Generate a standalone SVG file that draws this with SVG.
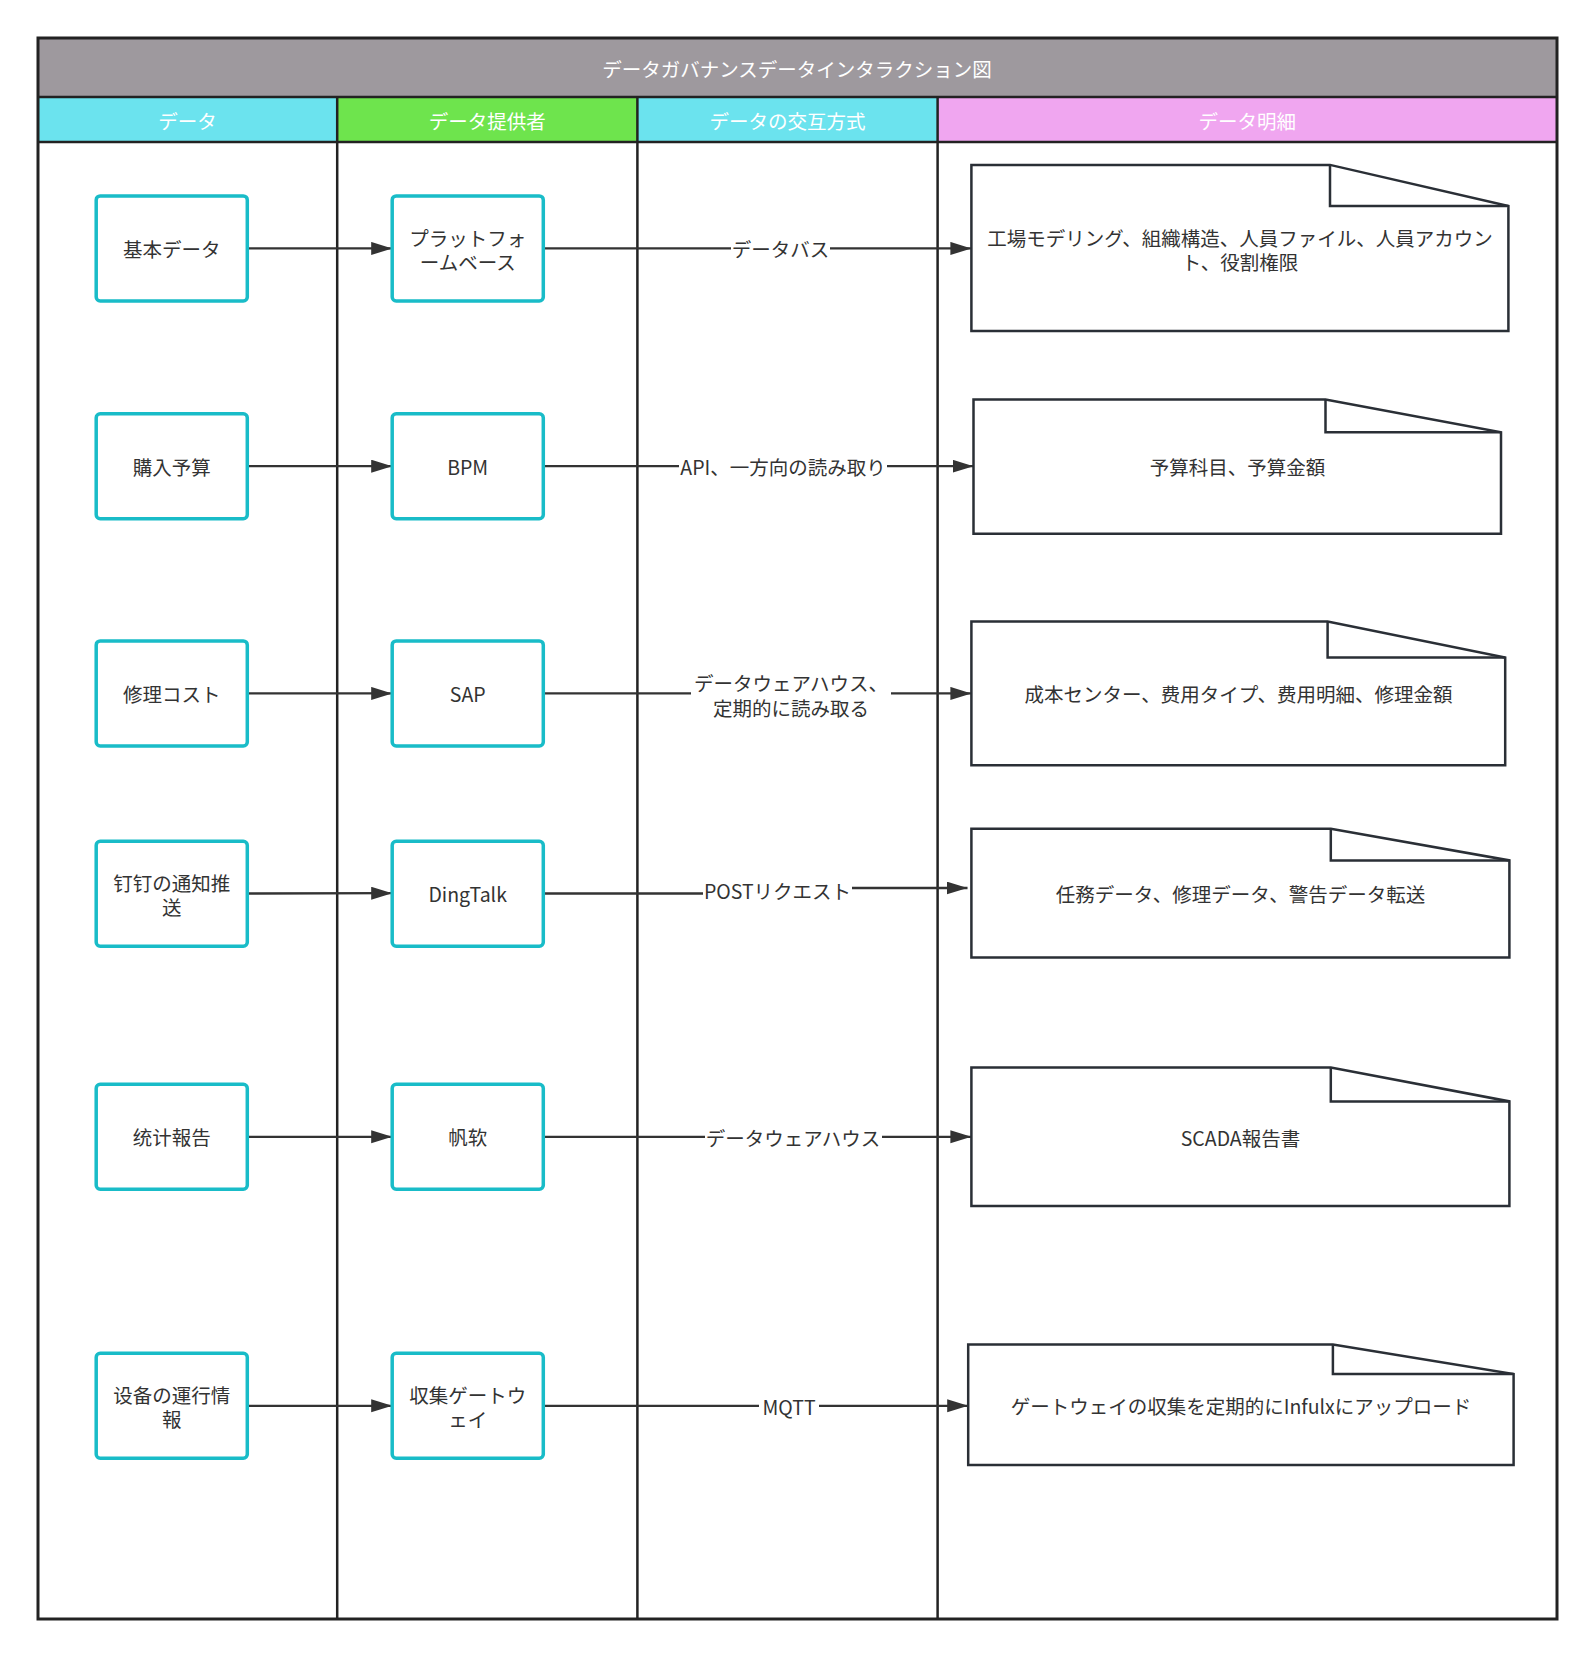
<svg xmlns="http://www.w3.org/2000/svg" width="1594" height="1657" viewBox="0 0 1594 1657">
<defs>
<style>
.t{font-family:"Noto Sans CJK JP","Noto Sans",sans-serif;font-size:19.5px;fill:#333;text-anchor:middle;dominant-baseline:central}
.hw{font-family:"Noto Sans CJK JP","Noto Sans",sans-serif;font-size:19.5px;fill:#fff;text-anchor:middle;dominant-baseline:central}
.lane{stroke:#222;stroke-width:2.5;fill:none}
.node{fill:#fff;stroke:#19bcc8;stroke-width:3.5}
.doc{fill:#fff;stroke:#2a2f36;stroke-width:2.5}
.fold{fill:none;stroke:#2a2f36;stroke-width:2.5}
.c{fill:none;stroke:#333;stroke-width:2.3}
.lb{fill:#fff}
</style>
<marker id="ah" markerUnits="userSpaceOnUse" markerWidth="22" markerHeight="14" refX="21" refY="6.5" orient="auto">
<path d="M0,0 L21,6.5 L0,13 z" fill="#333"/>
</marker>
</defs>
<rect width="1594" height="1657" fill="#fff"/>
<g id="frame">
<rect x="38" y="38" width="1519" height="59" fill="#9e999e"/>
<rect x="38" y="97" width="299.2" height="45" fill="#6be3ee"/>
<rect x="337.2" y="97" width="300.2" height="45" fill="#6ee44d"/>
<rect x="637.4" y="97" width="300.2" height="45" fill="#6be3ee"/>
<rect x="937.6" y="97" width="619.4" height="45" fill="#f0a6f0"/>
<text class="hw" x="797" y="68">データガバナンスデータインタラクション図</text>
<text class="hw" x="187.6" y="120">データ</text>
<text class="hw" x="487.3" y="120">データ提供者</text>
<text class="hw" x="787.5" y="120">データの交互方式</text>
<text class="hw" x="1247.3" y="120">データ明細</text>
<line class="lane" x1="38" y1="97" x2="1557" y2="97"/>
<line class="lane" x1="38" y1="142" x2="1557" y2="142"/>
<line class="lane" x1="337.2" y1="97" x2="337.2" y2="1619"/>
<line class="lane" x1="637.4" y1="97" x2="637.4" y2="1619"/>
<line class="lane" x1="937.6" y1="97" x2="937.6" y2="1619"/>
<rect x="38" y="38" width="1519" height="1581" fill="none" stroke="#222" stroke-width="3"/>
</g>
<g id="connectors">
<path class="c" d="M247.3 248.4 L392.2 248.4" marker-end="url(#ah)"/>
<path class="c" d="M543.3 248.4 L971.4 248.4" marker-end="url(#ah)"/>
<path class="c" d="M247.3 466.2 L392.2 466.2" marker-end="url(#ah)"/>
<path class="c" d="M543.3 466.2 L973.5 466.2" marker-end="url(#ah)"/>
<path class="c" d="M247.3 693.4 L392.2 693.4" marker-end="url(#ah)"/>
<path class="c" d="M543.3 693.4 L971.4 693.4" marker-end="url(#ah)"/>
<path class="c" d="M247.3 893.5 L392.2 893.2" marker-end="url(#ah)"/>
<path class="c" d="M543.3 893.5 L778 893.5 L778 888 L967.5 888" marker-end="url(#ah)"/>
<path class="c" d="M247.3 1136.8 L392.2 1136.8" marker-end="url(#ah)"/>
<path class="c" d="M543.3 1136.8 L971.4 1136.8" marker-end="url(#ah)"/>
<path class="c" d="M247.3 1405.8 L392.2 1405.8" marker-end="url(#ah)"/>
<path class="c" d="M543.3 1405.8 L968.2 1405.8" marker-end="url(#ah)"/>
<rect class="lb" x="731" y="236" width="99" height="25"/>
<text class="t" x="780.5" y="248.4">データバス</text>
<rect class="lb" x="679" y="453" width="208" height="26"/>
<text class="t" x="783" y="466.2">API、一方向の読み取り</text>
<rect class="lb" x="691" y="669" width="200" height="50"/>
<text class="t" x="791" y="682"><tspan x="791" y="682">データウェアハウス、</tspan><tspan x="791" y="706.5">定期的に読み取る</tspan></text>
<rect class="lb" x="703" y="877" width="149" height="26"/>
<text class="t" x="777.5" y="890">POSTリクエスト</text>
<rect class="lb" x="705" y="1124" width="177" height="26"/>
<text class="t" x="793" y="1137">データウェアハウス</text>
<rect class="lb" x="759" y="1393" width="60" height="26"/>
<text class="t" x="789" y="1406">MQTT</text>
</g>
<g id="n1"><rect class="node" x="96.2" y="195.9" width="151.1" height="105" rx="4"/><text class="t" x="171.7" y="248.4">基本データ</text></g>
<g id="n2"><rect class="node" x="96.2" y="413.7" width="151.1" height="105" rx="4"/><text class="t" x="171.7" y="466.2">購入予算</text></g>
<g id="n3"><rect class="node" x="96.2" y="640.9" width="151.1" height="105" rx="4"/><text class="t" x="171.7" y="693.4">修理コスト</text></g>
<g id="n4"><rect class="node" x="96.2" y="841.2" width="151.1" height="105" rx="4"/><text class="t" x="171.7" y="881.5"><tspan x="171.7" y="881.5">钉钉の通知推</tspan><tspan x="171.7" y="906">送</tspan></text></g>
<g id="n5"><rect class="node" x="96.2" y="1084.3" width="151.1" height="105" rx="4"/><text class="t" x="171.7" y="1136.8">统计報告</text></g>
<g id="n6"><rect class="node" x="96.2" y="1353.3" width="151.1" height="105" rx="4"/><text class="t" x="171.7" y="1393.8"><tspan x="171.7" y="1393.8">设备の運行情</tspan><tspan x="171.7" y="1418.3">報</tspan></text></g>
<g id="m1"><rect class="node" x="392.2" y="195.9" width="151.1" height="105" rx="4"/><text class="t" x="467.7" y="236.6"><tspan x="467.7" y="236.6">プラットフォ</tspan><tspan x="467.7" y="261">ームベース</tspan></text></g>
<g id="m2"><rect class="node" x="392.2" y="413.7" width="151.1" height="105" rx="4"/><text class="t" x="467.7" y="466.2">BPM</text></g>
<g id="m3"><rect class="node" x="392.2" y="640.9" width="151.1" height="105" rx="4"/><text class="t" x="467.7" y="693.4">SAP</text></g>
<g id="m4"><rect class="node" x="392.2" y="841.2" width="151.1" height="105" rx="4"/><text class="t" x="467.7" y="893.7">DingTalk</text></g>
<g id="m5"><rect class="node" x="392.2" y="1084.3" width="151.1" height="105" rx="4"/><text class="t" x="467.7" y="1136.8">帆软</text></g>
<g id="m6"><rect class="node" x="392.2" y="1353.3" width="151.1" height="105" rx="4"/><text class="t" x="467.7" y="1393.8"><tspan x="467.7" y="1393.8">収集ゲートウ</tspan><tspan x="467.7" y="1418.3">ェイ</tspan></text></g>
<g id="d1"><path class="doc" d="M971.4 164.9 L1330 164.9 L1508.4 206 L1508.4 330.9 L971.4 330.9 Z"/><path class="fold" d="M1330 164.9 L1330 206 L1508.4 206"/><text class="t" x="1240" y="236.6"><tspan x="1240" y="236.6">工場モデリング、組織構造、人員ファイル、人員アカウン</tspan><tspan x="1240" y="261">ト、役割権限</tspan></text></g>
<g id="d2"><path class="doc" d="M973.5 399.5 L1325.5 399.5 L1501 432.3 L1501 533.8 L973.5 533.8 Z"/><path class="fold" d="M1325.5 399.5 L1325.5 432.3 L1501 432.3"/><text class="t" x="1237.5" y="466.2">予算科目、予算金額</text></g>
<g id="d3"><path class="doc" d="M971.4 621.5 L1327.6 621.5 L1505.2 657.5 L1505.2 765.3 L971.4 765.3 Z"/><path class="fold" d="M1327.6 621.5 L1327.6 657.5 L1505.2 657.5"/><text class="t" x="1238.5" y="693.4">成本センター、费用タイプ、费用明細、修理金額</text></g>
<g id="d4"><path class="doc" d="M971.4 828.7 L1330.8 828.7 L1509.4 860.4 L1509.4 957.6 L971.4 957.6 Z"/><path class="fold" d="M1330.8 828.7 L1330.8 860.4 L1509.4 860.4"/><text class="t" x="1240.5" y="893.5">任務データ、修理データ、警告データ転送</text></g>
<g id="d5"><path class="doc" d="M971.4 1067.6 L1330.8 1067.6 L1509.4 1101.4 L1509.4 1206 L971.4 1206 Z"/><path class="fold" d="M1330.8 1067.6 L1330.8 1101.4 L1509.4 1101.4"/><text class="t" x="1240.5" y="1137">SCADA報告書</text></g>
<g id="d6"><path class="doc" d="M968.2 1344.5 L1332.9 1344.5 L1513.6 1374.1 L1513.6 1465 L968.2 1465 Z"/><path class="fold" d="M1332.9 1344.5 L1332.9 1374.1 L1513.6 1374.1"/><text class="t" x="1241" y="1405.8">ゲートウェイの収集を定期的にInfulxにアップロード</text></g>
</svg>
